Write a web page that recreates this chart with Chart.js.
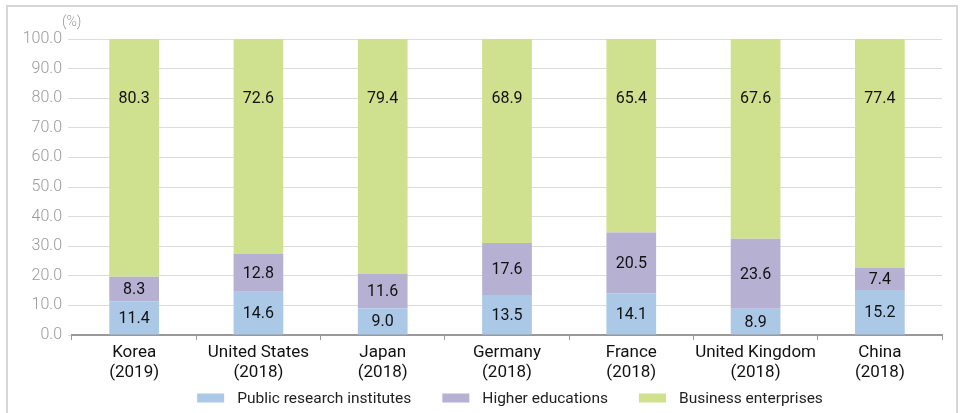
<!DOCTYPE html>
<html>
<head>
<meta charset="utf-8">
<script src="https://cdn.jsdelivr.net/npm/chart.js@4"></script>
<style>
  html, body { margin: 0; padding: 0; background: #fff; }
  #wrap { position: absolute; left: 0; top: 0; width: 960px; height: 413px; }
  #frame { position: absolute; left: 6px; top: 5px; width: 952px; height: 440px;
           border: 2px solid #d6d6d6; box-sizing: border-box; pointer-events: none; }
</style>
</head>
<body>
<div id="wrap"><canvas id="chart" width="960" height="413"></canvas></div>
<div id="frame"></div>
<script>
// R&D spending by performing sector (%)
const countries = [["Korea", "(2019)"], ["United States", "(2018)"], ["Japan", "(2018)"],
    ["Germany", "(2018)"], ["France", "(2018)"], ["United Kingdom", "(2018)"], ["China", "(2018)"]]
const publicInst = [11.4, 14.6, 9.0, 13.5, 14.1, 8.9, 15.2]
const higherEdu = [8.3, 12.8, 11.6, 17.6, 20.5, 23.6, 7.4]
const business = [80.3, 72.6, 79.4, 68.9, 65.4, 67.6, 77.4]
const seriesNames = ["Public research institutes", "Higher educations", "Business enterprises"]
const colors = ["#abc9e6", "#b6b0d2", "#cfe08f"]

const FONT = "Roboto"

// value labels inside each segment; top segment labels sit at a fixed height
const valueLabels = {
    id: "valueLabels",
    afterDatasetsDraw(chart) {
        const ctx = chart.ctx
        const yScale = chart.scales.y
        ctx.save()
        ctx.font = "16px " + FONT
        ctx.fillStyle = "#111"
        ctx.textAlign = "center"
        ctx.textBaseline = "middle"
        chart.data.datasets.forEach((ds, i) => {
            chart.getDatasetMeta(i).data.forEach((bar, j) => {
                let y = (bar.y + bar.base) / 2
                if (i == 2) y = yScale.getPixelForValue(80)
                ctx.fillText(ds.data[j].toFixed(1), bar.x, y + 1)
            })
        })
        ctx.restore()
    }
}

// unit text above the y axis and the legend row under the chart
const extras = {
    id: "extras",
    afterDraw(chart) {
        const ctx = chart.ctx
        ctx.save()
        ctx.font = "300 14px " + FONT
        ctx.fillStyle = "#999"
        ctx.textAlign = "left"
        ctx.textBaseline = "middle"
        ctx.fillText("(%)", 62, 22)

        ctx.font = "15.5px " + FONT
        const boxW = 27, boxH = 9, gap = 13, spacing = 31
        let total = 0
        const widths = seriesNames.map(n => ctx.measureText(n).width)
        widths.forEach(w => total += boxW + gap + w)
        total += spacing * (seriesNames.length - 1)
        let x = (chart.width - total) / 2 + 30
        const y = 398
        seriesNames.forEach((n, i) => {
            ctx.fillStyle = colors[i]
            ctx.fillRect(x, y - boxH / 2, boxW, boxH)
            ctx.fillStyle = "#222"
            ctx.fillText(n, x + boxW + gap, y + 1)
            x += boxW + gap + widths[i] + spacing
        })
        ctx.restore()
    }
}

new Chart(document.getElementById("chart"), {
    type: "bar",
    data: {
        labels: countries,
        datasets: [
            { label: seriesNames[0], data: publicInst, backgroundColor: colors[0] },
            { label: seriesNames[1], data: higherEdu, backgroundColor: colors[1] },
            { label: seriesNames[2], data: business, backgroundColor: colors[2] }
        ]
    },
    options: {
        responsive: false,
        animation: false,
        events: [],
        layout: { padding: { left: 0, right: 18, top: 39, bottom: 31 } },
        datasets: { bar: { categoryPercentage: 1, barPercentage: 0.4 } },
        plugins: { legend: { display: false }, tooltip: { enabled: false } },
        scales: {
            x: {
                stacked: true,
                afterFit: s => { s.height = 47 },
                grid: { offset: true, drawOnChartArea: false, drawTicks: true, tickLength: 5, color: "#999", lineWidth: 1 },
                border: { display: true, color: "#999", width: 2 },
                ticks: { color: "#111", padding: 3, maxRotation: 0, minRotation: 0, autoSkip: false,
                    font: { family: FONT, size: 17, lineHeight: 1.15 } }
            },
            y: {
                stacked: true,
                min: 0,
                max: 100,
                afterFit: s => { s.width = 72 },
                grid: { color: "#dcdcdc", lineWidth: 1, tickLength: 4 },
                border: { display: false },
                ticks: { stepSize: 10, color: "#9a9a9a", padding: 6,
                    font: { family: FONT, size: 16, weight: 300 },
                    callback: v => v.toFixed(1) }
            }
        }
    },
    plugins: [valueLabels, extras]
})
</script>
</body>
</html>
